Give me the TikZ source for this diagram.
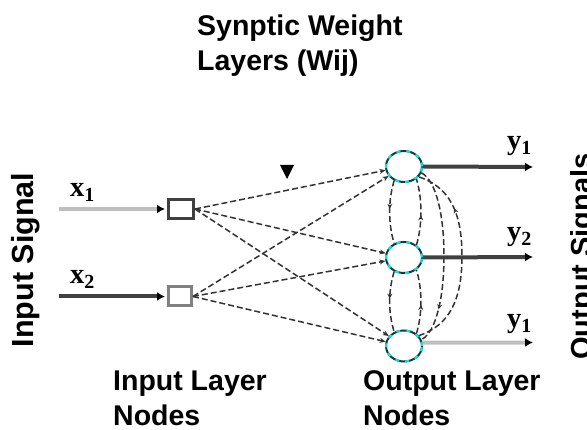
\documentclass[tikz,border=0pt]{standalone}
\usepackage{fontspec}
\setmainfont{Liberation Sans}
\newfontfamily\lblfont{Liberation Serif}
\usetikzlibrary{arrows.meta,shapes.geometric,decorations.markings}
\definecolor{darkteal}{RGB}{15,60,60}
\definecolor{cyanline}{RGB}{0,230,230}
\definecolor{lightline}{RGB}{190,190,190}
\definecolor{darkline}{RGB}{64,64,64}
\begin{document}
\begin{tikzpicture}[x=1pt,y=-1pt,
  bigtext/.style={font=\fontsize{28.5}{35}\selectfont\bfseries, inner sep=0pt, align=left},
  lbl/.style={font=\fontsize{28.5}{34}\selectfont\lblfont\bfseries, inner sep=0pt},
  inbox/.style={draw, rectangle, line width=3pt, minimum width=25pt, minimum height=19pt, inner sep=0pt},
  outnode/.style={ellipse, draw=darkteal, line width=2pt, minimum width=36pt, minimum height=31pt, inner sep=0pt,
    postaction={draw=cyanline, line width=2pt, dash pattern=on 4pt off 6pt}},
  conn/.style={draw=black!80, line width=1.5pt, dash pattern=on 6pt off 3pt, -{Stealth[length=6pt,width=5pt]}},
  loopline/.style={draw=black!80, line width=1.5pt, dash pattern=on 6pt off 3pt},
  midarrow/.style={postaction={decorate, decoration={markings, mark=at position #1 with {\arrow{Stealth[length=5pt,width=5pt]}}}}},
  sigline/.style={line width=4pt, -{Latex[length=8pt,width=9pt,color=black]}, shorten >=2pt}
]
\useasboundingbox (0,0) rectangle (587,430);

% title (anchor on the baseline of the last line)
\node[bigtext, anchor=base west] (title) at (197,70.4) {Synptic Weight\\Layers (Wij)};

% side texts
\node[font=\fontsize{30.5}{36}\selectfont\bfseries, inner sep=0pt, rotate=90, anchor=base] (insig) at (34,260) {Input Signal};
\node[font=\fontsize{29}{34}\selectfont\bfseries, inner sep=0pt, rotate=90, anchor=base] (outsig) at (591,256.5) {Output Signals};

% layer captions
\node[bigtext, anchor=base west] (incap) at (113,426) {Input Layer\\Nodes};
\node[bigtext, anchor=base west] (outcap) at (363,426) {Output Layer\\Nodes};

% input nodes
\node[inbox, draw=black!75] (in1) at (181,209) {};
\node[inbox, draw=black!50, minimum width=23pt] (in2) at (180,296.5) {};

% output nodes
\node[outnode] (o1) at (404,166.5) {};
\node[outnode] (o2) at (404,257.5) {};
\node[outnode] (o3) at (404,346) {};

% input signals
\coordinate (x1s) at (59,209);
\coordinate (x2s) at (59,296.5);
\draw[sigline, draw=lightline] (x1s) -- (in1.west);
\draw[sigline, draw=darkline] (x2s) -- (in2.west);
\node[lbl, anchor=base west] (x1) at (70,197) {x\raisebox{-5pt}{\fontsize{20}{20}\selectfont 1}};
\node[lbl, anchor=base west] (x2) at (70,284) {x\raisebox{-5pt}{\fontsize{20}{20}\selectfont 2}};

% weighted connections
\foreach \i in {in1,in2}
  \foreach \o in {o1,o2,o3}
    \draw[conn] (\i.east) -- (\o);

% small marker
\fill[black] (280,165) -- (294,165) -- (287,179) -- cycle;

% lateral connections between neighbouring output nodes
\draw[loopline, midarrow=0.45] (o1.-125) .. controls +(-6,20) and +(-6,-20) .. (o2.125);
\draw[loopline, midarrow=0.45] (o2.45) .. controls +(6,-20) and +(6,20) .. (o1.-45);
\draw[loopline, midarrow=0.45] (o2.-125) .. controls +(-6,20) and +(-6,-20) .. (o3.125);
\draw[loopline, midarrow=0.45] (o3.45) .. controls +(6,-20) and +(6,20) .. (o2.-45);

% outer feedback arcs
\draw[loopline, midarrow=0.8] (o1.-20) .. controls +(15,8) and +(0,-40) .. (444,256) .. controls +(0,40) and +(15,-8) .. (o3.20);
\draw[loopline, midarrow=0.75] (o3.35) .. controls +(30,-10) and +(0,45) .. (462,256) .. controls +(0,-45) and +(30,10) .. (o1.-35);

% output signals
\coordinate (y1e) at (533,167);
\coordinate (y2e) at (533,257);
\coordinate (y3e) at (533,342.5);
\draw[sigline, draw=darkline, shorten >=0pt] (o1.east) -- (y1e);
\draw[sigline, draw=darkline, shorten >=0pt] (o2.east) -- (y2e);
\draw[sigline, draw=lightline, shorten >=0pt] (o3.10) -- (y3e);
\node[lbl, anchor=base west] (y1) at (507,150) {y\raisebox{-5pt}{\fontsize{20}{20}\selectfont 1}};
\node[lbl, anchor=base west] (y2) at (507,241) {y\raisebox{-5pt}{\fontsize{20}{20}\selectfont 2}};
\node[lbl, anchor=base west] (y3) at (507,328) {y\raisebox{-5pt}{\fontsize{20}{20}\selectfont 1}};
\end{tikzpicture}
\end{document}
